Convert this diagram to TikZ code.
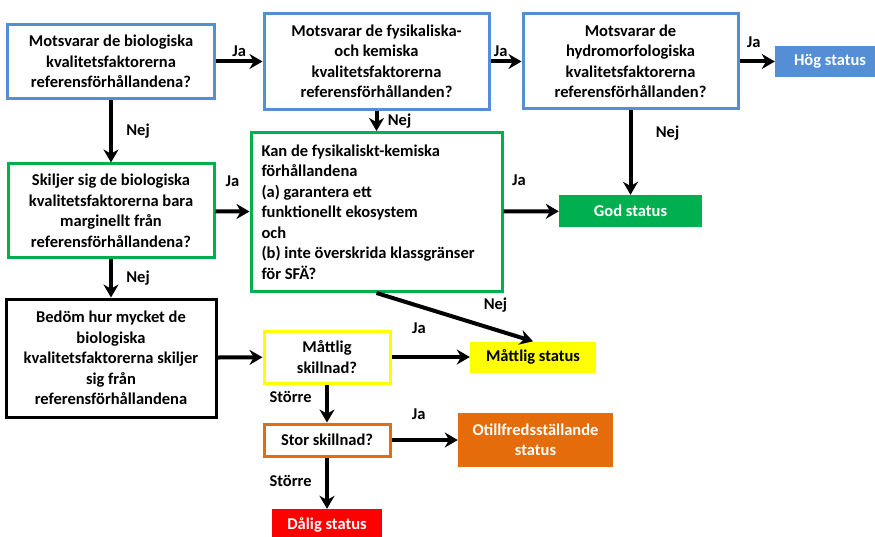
\documentclass[tikz,border=0pt]{standalone}
\usepackage{fontspec}
\setmainfont{Carlito}
\usetikzlibrary{arrows.meta}
\definecolor{ramBlue}{RGB}{85,142,213}
\definecolor{ramGreen}{RGB}{0,176,80}
\definecolor{ramYellow}{RGB}{255,255,0}
\definecolor{ramOrange}{RGB}{228,108,10}
\definecolor{ramRed}{RGB}{255,0,0}

\begin{document}
\begin{tikzpicture}[x=1pt,y=-1pt,
    font=\fontsize{16.5}{20.5}\selectfont\bfseries,
    >={Stealth[length=13pt,width=15pt]},
    question/.style={draw=#1,line width=3pt,fill=white,align=center,inner sep=2pt},
    result/.style={fill=#1,text=white,align=center,inner sep=2pt},
    pil/.style={->,line width=4pt}]
  \useasboundingbox (0,0) rectangle (875,537);
  \node[question=ramBlue,minimum width=207pt,minimum height=74pt] (bio) at (111,61.5)
    {Motsvarar de biologiska\\kvalitetsfaktorerna\\referensförhållandena?};
  \node[question=ramBlue,minimum width=225pt,minimum height=96pt] (fys) at (376.5,61.5)
    {Motsvarar de fysikaliska-\\och kemiska\\kvalitetsfaktorerna\\referensförhållanden?};
  \node[question=ramBlue,minimum width=215pt,minimum height=95pt] (hydro) at (630.5,61.5)
    {Motsvarar de\\hydromorfologiska\\kvalitetsfaktorerna\\referensförhållanden?};
  \node[result=ramBlue,minimum width=110pt,minimum height=31pt] (hog) at (830,61.5) {Hög status};
  \node[question=ramGreen,minimum width=206pt,minimum height=94pt] (skil) at (111,211)
    {Skiljer sig de biologiska\\kvalitetsfaktorerna bara\\marginellt från\\referensförhållandena?};
  \node[question=ramGreen,text width=230pt,align=flush left,inner xsep=10.5pt,minimum height=159pt] (kan) at (376.5,212)
    {Kan de fysikaliskt-kemiska\\förhållandena\\(a) garantera ett\\funktionellt ekosystem\\och\\(b) inte överskrida klassgränser\\för SFÄ?};
  \node[result=ramGreen,minimum width=143pt,minimum height=32pt] (god) at (630.5,211) {God status};
  \node[question=black,minimum width=210pt,minimum height=118pt] (bed) at (111,358)
    {Bedöm hur mycket de\\biologiska\\kvalitetsfaktorerna skiljer\\sig från\\referensförhållandena};
  \node[question=ramYellow,minimum width=126pt,minimum height=52pt] (ms) at (327,357) {Måttlig\\skillnad?};
  \node[result=ramYellow,text=black,minimum width=126pt,minimum height=31pt] (mst) at (533,357) {Måttlig status};
  \node[question=ramOrange,minimum width=126pt,minimum height=32pt] (stor) at (327,440) {Stor skillnad?};
  \node[result=ramOrange,minimum width=155pt,minimum height=54pt] (otill) at (535.5,440) {Otillfredsställande\\status};
  \node[result=ramRed,minimum width=110pt,minimum height=32pt] (dal) at (327,525) {Dålig status};

  \draw[pil] (bio) -- node[above]{Ja} (fys);
  \draw[pil] (fys) -- node[pos=0.33,above]{Ja} (hydro);
  \draw[pil] (hydro) -- node[pos=0.4,above=9pt]{Ja} (hog);
  \draw[pil] (hydro) -- node[pos=0.27,right=20pt]{Nej} (god);
  \draw[pil] (bio) -- node[right=10pt]{Nej} (skil);
  \draw[pil] (fys) -- node[right=6pt]{Nej} (kan);
  \draw[pil] (skil) -- node[above=20pt]{Ja} (kan);
  \draw[pil] (kan) -- node[pos=0.28,above=20pt]{Ja} (god);
  \draw[pil] (skil) -- node[right=10pt]{Nej} (bed);
  \draw[pil] (kan.south) -- node[pos=0.76,above=12pt]{Nej} (mst.north);
  \draw[pil] (bed) -- (ms);
  \draw[pil] (ms) -- node[pos=0.35,above=18pt]{Ja} (mst);
  \draw[pil] (ms) -- node[pos=0.34,left=10pt]{Större} (stor);
  \draw[pil] (stor) -- node[pos=0.41,above=15pt]{Ja} (otill);
  \draw[pil] (stor) -- node[pos=0.45,left=10pt]{Större} (dal);
\end{tikzpicture}
\end{document}
